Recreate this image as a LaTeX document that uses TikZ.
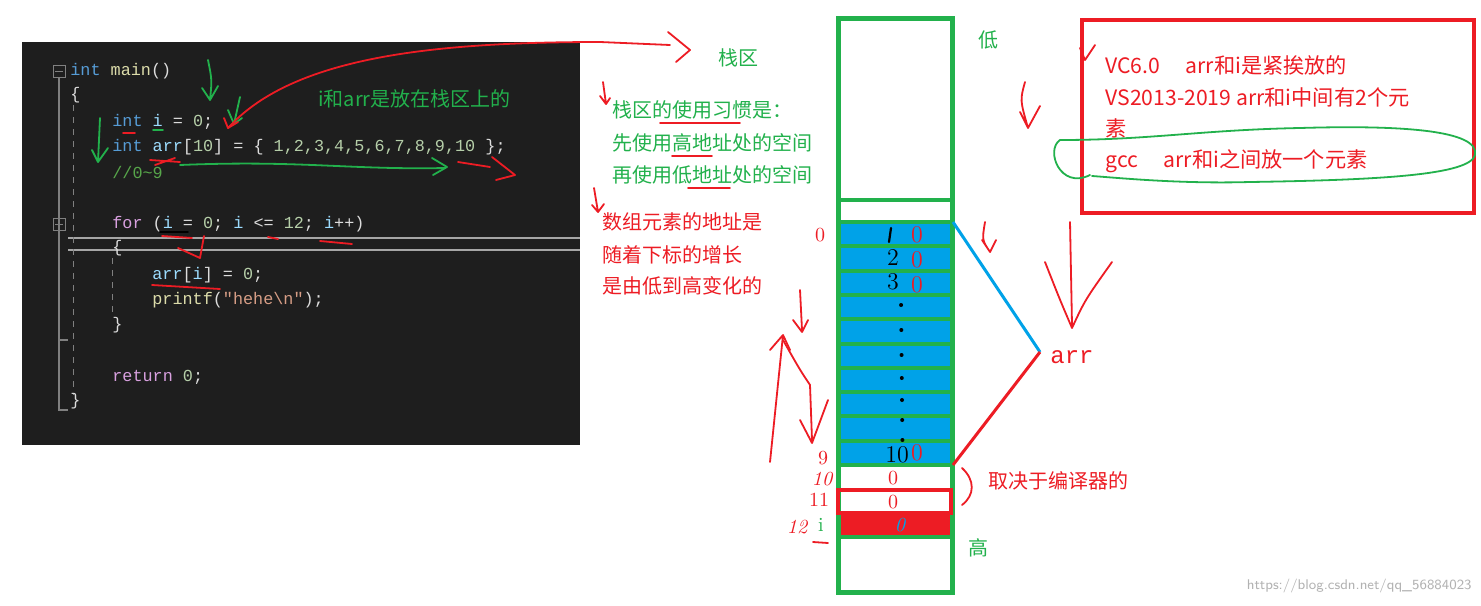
\documentclass[tikz,border=0pt]{standalone}
\usepackage{fontspec}
\setmonofont{Liberation Mono}
\newfontfamily\cjk{Noto Sans CJK SC}
\usetikzlibrary{arrows.meta}
\definecolor{pg}{HTML}{22B14C}
\definecolor{pr}{HTML}{ED1C24}
\definecolor{pb}{HTML}{00A2E8}
\definecolor{cbg}{HTML}{1E1E1E}
\definecolor{ckw}{HTML}{569CD6}
\definecolor{cfn}{HTML}{DCDCAA}
\definecolor{cnum}{HTML}{B5CEA8}
\definecolor{ccm}{HTML}{57A64A}
\definecolor{cctl}{HTML}{D8A0DF}
\definecolor{ctx}{HTML}{DCDCDC}
\definecolor{cvar}{HTML}{9CDCFE}
\definecolor{cstr}{HTML}{D69D85}
\tikzset{
 code/.style={anchor=west,inner sep=0pt,font=\ttfamily\fontsize{8.4pt}{9pt}\selectfont,text=ctx},
 cn/.style={anchor=west,inner sep=0pt,font=\cjk\fontsize{10pt}{12pt}\selectfont},
 boxt/.style={anchor=west,inner sep=0pt,text=pr,font=\cjk\fontsize{10.6pt}{12pt}\selectfont},
 hand/.style={line width=0.9pt,line cap=round,line join=round},
 cellline/.style={pg,line width=2pt},
}
\begin{document}
\begin{tikzpicture}[x=0.5pt,y=-0.5pt]
\useasboundingbox (0,0) rectangle (1481,605);
\fill[white] (0,0) rectangle (1481,605);
% code panel
\fill[cbg] (22,42) rectangle (580,445);
\draw[gray!70,line width=0.8pt] (68,250) -- (580,250) (68,238) -- (580,238);
\draw[gray,line width=1pt] (59,78) -- (59,410) -- (68,410);
\draw[gray,line width=1pt] (59,233) -- (59,340) -- (68,340);
\draw[gray,dashed] (73,105) -- (73,395) (112,258) -- (112,312);
\draw[gray] (53,65) rectangle (65,77) (55,71)--(63,71);
\draw[gray] (53,218) rectangle (65,230) (55,224)--(63,224);
\node[code] (l1) at (70,71) {\textcolor{ckw}{int} \textcolor{cfn}{main}()};
\node[code] (l2) at (70,95) {\{};
\node[code] (l3) at (112,122) {\textcolor{ckw}{int} \textcolor{cvar}{i} = \textcolor{cnum}{0};};
\node[code] (l4) at (112,147) {\textcolor{ckw}{int} \textcolor{cvar}{arr}[\textcolor{cnum}{10}] = \{ \textcolor{cnum}{1,2,3,4,5,6,7,8,9,10} \};};
\node[code] (l5) at (112,172) {\textcolor{ccm}{//0\textasciitilde 9}};
\node[code] (l6) at (112,224) {\textcolor{cctl}{for} (\textcolor{cvar}{i} = \textcolor{cnum}{0}; \textcolor{cvar}{i} <= \textcolor{cnum}{12}; \textcolor{cvar}{i}++)};
\node[code] (l7) at (112,248) {\{};
\node[code] (l8) at (152,275) {\textcolor{cvar}{arr}[\textcolor{cvar}{i}] = \textcolor{cnum}{0};};
\node[code] (l9) at (152,300) {\textcolor{cfn}{printf}(\textcolor{cstr}{"hehe\textbackslash n"});};
\node[code] (l10) at (112,325) {\}};
\node[code] (l11) at (112,377) {\textcolor{cctl}{return} \textcolor{cnum}{0};};
\node[code] (l12) at (70,401) {\}};
\node[cn,text=pg] (t0) at (318,99) {i和arr是放在栈区上的};
% green hand arrows in code
\draw[hand,pg] (208,60) .. controls (212,80) .. (210,100) (202,88) -- (210,100) -- (218,86);
\draw[hand,pg] (240,97) -- (234,124) (228,110) -- (234,124) -- (242,118);
\draw[hand,pg] (100,118) -- (98,162) (92,150) -- (98,162) -- (108,148);
\draw[hand,pg] (180,165) .. controls (300,160) and (350,170) .. (445,168) (432,158) -- (447,167) -- (433,175);
\draw[hand,pg] (153,130) -- (163,130);
% red marks in code
\draw[hand,pr] (458,162) -- (490,167) (492,157) -- (515,175) -- (496,180);
\draw[hand,pr] (150,160) -- (180,162) (155,165) -- (175,158);
\draw[hand,pr] (123,133) -- (135,133);
\draw[hand,pr] (162,236) -- (192,238) (178,248) -- (200,258) -- (204,236);
\draw[hand,pr] (268,237) -- (278,239) (320,241) -- (352,244);
\draw[hand,pr] (152,285) -- (220,289);
\draw[hand,black] (160,232) -- (188,232);
% big red curve
\draw[hand,pr] (228,128) .. controls (290,60) and (420,42) .. (600,42) -- (670,45);
\draw[hand,pr] (224,118) -- (228,128) -- (238,122);
\draw[hand,pr] (668,32) -- (690,50) -- (676,62);
% stack column
\fill[pb] (839,222) rectangle (951,465);
\fill[pr] (839,513) rectangle (951,537);
\foreach \y in {200,222,246.3,270.6,294.9,319.2,343.5,367.8,392.1,416.4,440.7,465,490,513,537}
  \draw[cellline] (839,\y) -- (951,\y);
\draw[pg,line width=2.5pt] (838,18) rectangle (952,592);
\draw[pr,line width=2pt] (838,490) rectangle (951,513);
\node[cn,text=pg] (zq) at (718,58) {栈区};
\node[cn,text=pg] (di) at (978,40) {低};
\node[cn,text=pg] (gao) at (968,548) {高};
% cell handwriting
\begin{scope}[hand,black,line width=1.1pt]
\draw (891,228) -- (889,242);
\node[font=\large,inner sep=0] (n2) at (893,258) {2};
\node[font=\large,inner sep=0] (n3) at (893,282) {3};
\node[font=\large,inner sep=0] (n10) at (897,455) {10};
\end{scope}
\foreach \y in {305,330,355,378,400,420,440} \fill (898+\y/100,\y) circle (1pt);
\foreach \y/\s in {235/0,260/0,285/0,453/0} \node[text=pr,font=\large,inner sep=0] at (917,\y) {\s};
\node[text=pr,inner sep=0] at (893,478) {0};
\node[text=pr,inner sep=0] at (893,502) {0};
\node[text=pb,inner sep=0,font=\itshape] at (900,525) {0};
% indices
\node[text=pr,inner sep=0] (i0) at (820,235) {0};
\node[text=pr,inner sep=0] (i9) at (823,458) {9};
\node[text=pr,inner sep=0,font=\itshape] (i10) at (822,479) {10};
\node[text=pr,inner sep=0] (i11) at (819,500) {11};
\node[text=pr,inner sep=0,font=\itshape] (i12) at (797,527) {12};
\node[text=pg,inner sep=0] (ii) at (821,525) {i};
\draw[hand,pr] (813,542) -- (828,543);
% arr brace
\coordinate (bt) at (953,222);
\coordinate (bm) at (1040,352);
\coordinate (bb) at (953,465);
\draw[pb,line width=1.5pt] (bt) -- (bm);
\draw[pr,line width=1.5pt] (bm) -- (bb);
\node[anchor=west,text=pr,font=\ttfamily\large,inner sep=0] (arr) at (1050,357) {arr};
\draw[hand,pr] (962,468) .. controls (975,480) and (975,495) .. (962,505);
\node[cn,text=pr] (qj) at (988,481) {取决于编译器的};
% left texts
\node[cn,text=pg] (u1) at (612,110) {栈区的使用习惯是：};
\node[cn,text=pg] (u2) at (612,143) {先使用高地址处的空间};
\node[cn,text=pg] (u3) at (612,175) {再使用低地址处的空间};
\draw[hand,pr] (660,123) -- (740,123) (672,156) -- (712,156) (688,188) -- (730,188);
\node[cn,text=pr] (a1) at (602,222) {数组元素的地址是};
\node[cn,text=pr] (a2) at (602,255) {随着下标的增长};
\node[cn,text=pr] (a3) at (602,286) {是由低到高变化的};
% red box
\draw[pr,line width=2pt] (1082,20) rectangle (1474,213);
\node[boxt] (b1) at (1105,65) {VC6.0\hspace{1.2em}arr和i是紧挨放的};
\node[boxt] (b2) at (1105,97) {VS2013-2019 arr和i中间有2个元};
\node[boxt] (b3) at (1105,128) {素};
\node[boxt] (b4) at (1105,161) {gcc\hspace{1.2em}arr和i之间放一个元素};
\draw[hand,pg] (1090,175) .. controls (1060,190) and (1045,150) .. (1060,140)
  .. controls (1150,140) and (1200,130) .. (1300,128) .. controls (1400,125) and (1480,130) .. (1475,155)
  .. controls (1470,175) and (1380,180) .. (1250,182) .. controls (1180,184) and (1120,178) .. (1092,176);
% red hand arrows around column
\draw[hand,pr] (603,82) -- (606,104) (600,96) -- (606,104) -- (610,98);
\draw[hand,pr] (594,188) -- (598,212) (592,205) -- (598,212) -- (604,204);
\draw[hand,pr] (1080,48) -- (1085,60) -- (1095,45);
\draw[hand,pr] (1025,82) .. controls (1020,100) .. (1028,128) (1020,112) -- (1028,128) -- (1040,106);
\draw[hand,pr] (985,222) .. controls (982,240) .. (990,252) (982,240) -- (990,252) -- (996,240);
\draw[hand,pr] (1070,222) -- (1072,325) (1045,262) .. controls (1060,300) .. (1072,328) .. controls (1085,300) .. (1112,262);
\draw[hand,pr] (800,290) -- (802,330) (793,320) -- (802,332) -- (808,320);
\draw[hand,pr] (770,462) -- (783,335) (770,350) -- (783,335) -- (790,350);
\draw[hand,pr] (783,340) .. controls (800,370) .. (810,385) -- (812,440) (800,420) -- (812,443) -- (828,400);
% watermark
\node[anchor=east,text=gray!60,font=\sffamily\scriptsize,inner sep=0] (wm) at (1472,586) {https://blog.csdn.net/qq\_56884023};
\end{tikzpicture}
\end{document}
